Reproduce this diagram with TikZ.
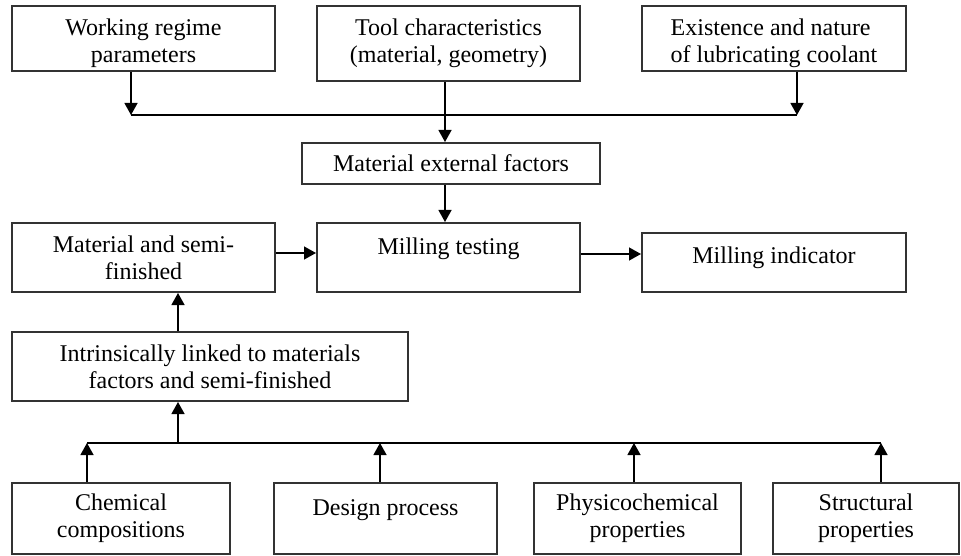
\documentclass[tikz,border=0pt]{standalone}
\usepackage{fontspec}
\setmainfont{Liberation Serif}
\usetikzlibrary{arrows.meta,positioning}

\begin{document}
\begin{tikzpicture}[
  x=1pt,y=-1pt,
  font=\fontsize{24}{27}\selectfont,
  box/.style={rectangle,draw=black!80,line width=2pt,inner sep=0pt,align=center},
  toptext/.style={text height=16pt,text depth=22pt},
  lowtext/.style={text height=54pt,text depth=5pt},
  link/.style={line width=1.3pt},
  arr/.style={link,-{Triangle[length=12pt,width=13pt]}},
]
\useasboundingbox (0,0) rectangle (961,556);

\node [box,lowtext,minimum width=263pt,minimum height=65pt] (work) at (143.5,38.5) {Working regime\\parameters};
\node [box,minimum width=263pt,minimum height=75pt] (tool) at (448.5,43.5) {Tool characteristics\\(material, geometry)};
\node [box,lowtext,align=left,minimum width=264pt,minimum height=65pt] (exist) at (774,38.5) {Existence and nature\\of lubricating coolant};
\node [box,minimum width=298pt,minimum height=41pt] (ext) at (451,163.5) {Material external factors};
\node [box,minimum width=263pt,minimum height=69pt] (mat) at (143.5,257.5) {Material and semi-\\finished};
\node [box,toptext,minimum width=263pt,minimum height=69pt] (mill) at (448.5,257.5) {Milling testing};
\node [box,text height=16pt,text depth=15pt,minimum width=264pt,minimum height=59pt] (ind) at (774,262.5) {Milling indicator};
\node [box,minimum width=396pt,minimum height=69pt] (intr) at (210,366.5) {Intrinsically linked to materials\\factors and semi-finished};
\node [box,minimum width=218pt,minimum height=71pt] (chem) at (121,518.5) {Chemical\\compositions};
\node [box,toptext,minimum width=223pt,minimum height=71pt] (design) at (385.5,518.5) {Design process};
\node [box,minimum width=207pt,minimum height=71pt] (phys) at (637.5,518.5) {Physicochemical\\properties};
\node [box,minimum width=186pt,minimum height=71pt] (struct) at (866,518.5) {Structural\\properties};

\coordinate (jl) at (131,115);
\coordinate (jm) at (445,115);
\coordinate (jr) at (797,115);
\draw [arr] (work.south -| jl) -- (jl);
\draw [arr] (exist.south -| jr) -- (jr);
\draw [link] (jl) -- (jr);
\draw [arr] (tool.south -| jm) -- (ext.north -| jm);
\draw [arr] (ext.south -| jm) -- (mill.north -| jm);
\draw [arr] ([yshift=4.5pt]mat.east) -- ([yshift=4.5pt]mat.east -| mill.west);
\draw [arr] ([yshift=3.5pt]mill.east) -- ([yshift=3.5pt]mill.east -| ind.west);

\coordinate (jb) at (178,443);
\draw [arr] (intr.north -| jb) -- (mat.south -| jb);
\draw [arr] (jb) -- (intr.south -| jb);
\coordinate (b1) at (87,443);
\coordinate (b2) at (380,443);
\coordinate (b3) at (634,443);
\coordinate (b4) at (881,443);
\draw [link] (b1) -- (b4);
\foreach \n/\c in {chem/b1,design/b2,phys/b3,struct/b4}
  \draw [arr] (\n.north -| \c) -- (\c);
\end{tikzpicture}
\end{document}
